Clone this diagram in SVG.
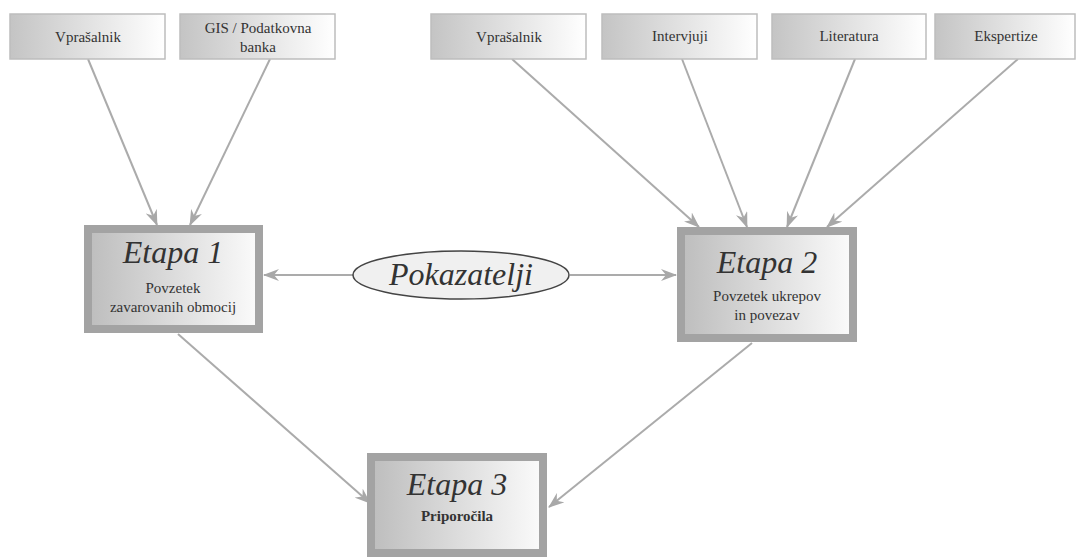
<svg xmlns="http://www.w3.org/2000/svg" width="1079" height="557" viewBox="0 0 1079 557">
<defs>
<linearGradient id="g1" x1="0" y1="0" x2="1" y2="0">
<stop offset="0" stop-color="#c4c4c4"/><stop offset="1" stop-color="#ffffff"/>
</linearGradient>
<linearGradient id="g2" x1="0" y1="0" x2="1" y2="0">
<stop offset="0" stop-color="#bdbdbd"/><stop offset="1" stop-color="#fbfbfb"/>
</linearGradient>
<marker id="ah" viewBox="0 0 16 12" refX="15" refY="6" markerWidth="16" markerHeight="12" markerUnits="userSpaceOnUse" orient="auto">
<path d="M0,0 L16,6 L0,12 L5,6 Z" fill="#a8a8a8"/>
</marker>
<style>
.src{fill:url(#g1);stroke:#bdbdbd;stroke-width:1.5}
.stage{fill:url(#g2);stroke:#a3a3a3;stroke-width:8}
.t{fill:#333;text-anchor:middle}
.s{font-size:15px}
.h{font-size:32px;font-style:italic}
.c{stroke:#ababab;stroke-width:2;fill:none;marker-end:url(#ah)}
</style>
</defs>
<rect width="1079" height="557" fill="#fff"/>
<g id="connectors">
<line class="c" x1="88" y1="59" x2="157" y2="225"/>
<line class="c" x1="270" y1="59" x2="190" y2="225"/>
<line class="c" x1="512" y1="59" x2="699" y2="227"/>
<line class="c" x1="682" y1="59" x2="747" y2="227"/>
<line class="c" x1="855" y1="59" x2="787" y2="227"/>
<line class="c" x1="1018" y1="59" x2="827" y2="227"/>
<line class="c" x1="353" y1="275" x2="264" y2="275"/>
<line class="c" x1="570" y1="275" x2="676" y2="275"/>
<line class="c" x1="178" y1="334" x2="370" y2="503"/>
<line class="c" x1="752" y1="343" x2="549" y2="507"/>
</g>
<g font-family="'Liberation Serif', 'DejaVu Serif', 'Times New Roman', serif">
<g id="src1"><rect class="src" x="10" y="14" width="155" height="45"/><text class="t s" x="88" y="42">Vprašalnik</text></g>
<g id="src2"><rect class="src" x="180" y="14" width="155" height="45"/><text class="t s" x="258" y="33">GIS / Podatkovna</text><text class="t s" x="258" y="52">banka</text></g>
<g id="src3"><rect class="src" x="431" y="14" width="155" height="45"/><text class="t s" x="509" y="42">Vprašalnik</text></g>
<g id="src4"><rect class="src" x="602" y="14" width="155" height="45"/><text class="t s" x="680" y="41">Intervjuji</text></g>
<g id="src5"><rect class="src" x="772" y="14" width="154" height="45"/><text class="t s" x="849" y="41">Literatura</text></g>
<g id="src6"><rect class="src" x="935" y="14" width="140" height="45"/><text class="t s" x="1006" y="41">Ekspertize</text></g>
<g id="etapa1"><rect class="stage" x="88" y="229" width="171" height="100"/><text class="t h" x="173" y="263">Etapa 1</text><text class="t s" x="173" y="293">Povzetek</text><text class="t s" x="173" y="312">zavarovanih obmocij</text></g>
<g id="etapa2"><rect class="stage" x="681" y="231" width="172" height="107"/><text class="t h" x="767" y="273">Etapa 2</text><text class="t s" x="767" y="301">Povzetek ukrepov</text><text class="t s" x="767" y="320">in povezav</text></g>
<g id="etapa3"><rect class="stage" x="371" y="457" width="172" height="96"/><text class="t h" x="457" y="495">Etapa 3</text><text class="t s" x="457" y="521" font-weight="bold">Priporočila</text></g>
<g id="pokazatelji"><ellipse cx="461" cy="275" rx="108" ry="24" fill="#f0f0f0" stroke="#444" stroke-width="1.5"/><text class="t h" x="461" y="285">Pokazatelji</text></g>
</g>
</svg>
